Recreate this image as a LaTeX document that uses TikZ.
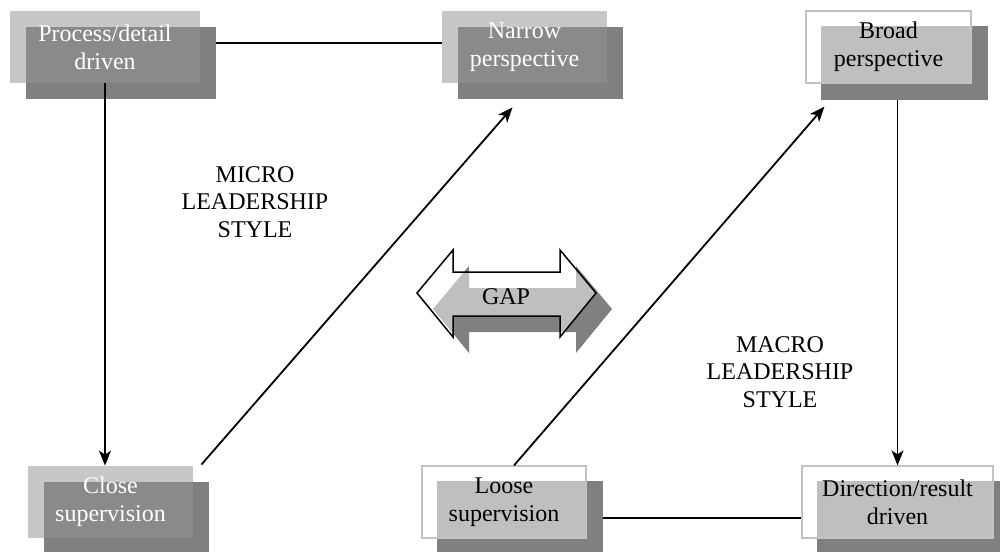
\documentclass[tikz,border=0pt]{standalone}
\usepackage{fontspec}
\setmainfont{Liberation Serif}
\usetikzlibrary{calc,arrows.meta,backgrounds}

\definecolor{frontgrey}{gray}{0.78}
\definecolor{shadowgrey}{gray}{0.5}
\definecolor{overgrey}{gray}{0.54}
\definecolor{overwhite}{gray}{0.75}
\definecolor{boxline}{gray}{0.76}

\newcommand{\gapoutline}{(417,293) -- (453,250) -- (453,272) -- (560,272) -- (560,250) -- (596,293) -- (560,337) -- (560,316) -- (453,316) -- (453,337) -- cycle}

\begin{document}
\begin{tikzpicture}[x=0.5pt,y=-0.5pt,
	txt/.style={align=center,inner sep=0pt,font=\fontsize{12}{13.8}\selectfont},
	greybox/.style={txt,text=white,minimum width=#1*0.5pt,minimum height=36pt},
	whitebox/.style={txt,text=black,draw=boxline,line width=0.6pt,minimum width=#1*0.5pt,minimum height=36pt},
	conn/.style={black,line width=0.9pt},
	arr/.style={conn,-{Stealth[length=7.5pt,width=6pt,inset=2pt]}}]

		\useasboundingbox (0,0) rectangle (1000,551);

		% boxes
		\node[greybox=190, at={(105, 47)}] (proc) {Process/detail\\driven};
		\node[greybox=165, at={(524.5, 47)}] (narrow) {Narrow\\perspective};
		\node[whitebox=165, at={(888.5, 47)}] (broad) {Broad\\perspective};
		\node[greybox=165, at={(110.5, 502)}] (close) {Close\\supervision};
		\node[whitebox=164, at={(504, 502)}] (loose) {Loose\\supervision};
		\node[whitebox=191, at={(897.5, 502)}] (direct) {Direction/result\\driven};

		\begin{pgfonlayer}{background}
		\draw[arr, line width=0.75pt] ($(narrow.west)+(0,-4)$) -- ($(proc.east)+(0,-4)$);
		\foreach \n in {proc,narrow,close} {
			\fill[frontgrey] (\n.north west) rectangle (\n.south east);
			\fill[shadowgrey] ([shift={(16,16)}]\n.north west) rectangle ([shift={(16,16)}]\n.south east);
			\fill[overgrey] ([shift={(16,16)}]\n.north west) rectangle (\n.south east);
		}
		\foreach \n in {broad,loose,direct} {
			\fill[shadowgrey] ([shift={(16,16)}]\n.north west) rectangle ([shift={(16,16)}]\n.south east);
			\fill[overwhite] ([shift={(16,16)}]\n.north west) rectangle (\n.south east);
		}
		\end{pgfonlayer}

		% connectors
		\draw[arr] (proc.south) -- (proc.south |- close.north);
		\draw[arr] ($(close.north east)+(8,-1)$) -- ($(narrow.south)+(-12,24)$);
		\draw[arr] ($(loose.north)+(10,0)$) -- ($(broad.south west)+(19,23)$);
		\draw[arr] ($(direct.north |- broad.south)+(0,16)$) -- (direct.north);
		\draw[conn] ($(loose.east)+(16,16)$) -- ($(direct.west)+(0,16)$);

		% labels
		\node[txt, at={(255, 202)}] (micro) {MICRO\\LEADERSHIP\\STYLE};
		\node[txt, at={(780, 372)}] (macro) {MACRO\\LEADERSHIP\\STYLE};

		% gap arrow
		\fill[shadowgrey, shift={(16,16)}] \gapoutline;
		\filldraw[fill=white, fill opacity=0.5, draw=black, line width=0.75pt] \gapoutline;
		\node[txt, at={(506, 297)}] (gap) {GAP};

	\end{tikzpicture}
\end{document}
